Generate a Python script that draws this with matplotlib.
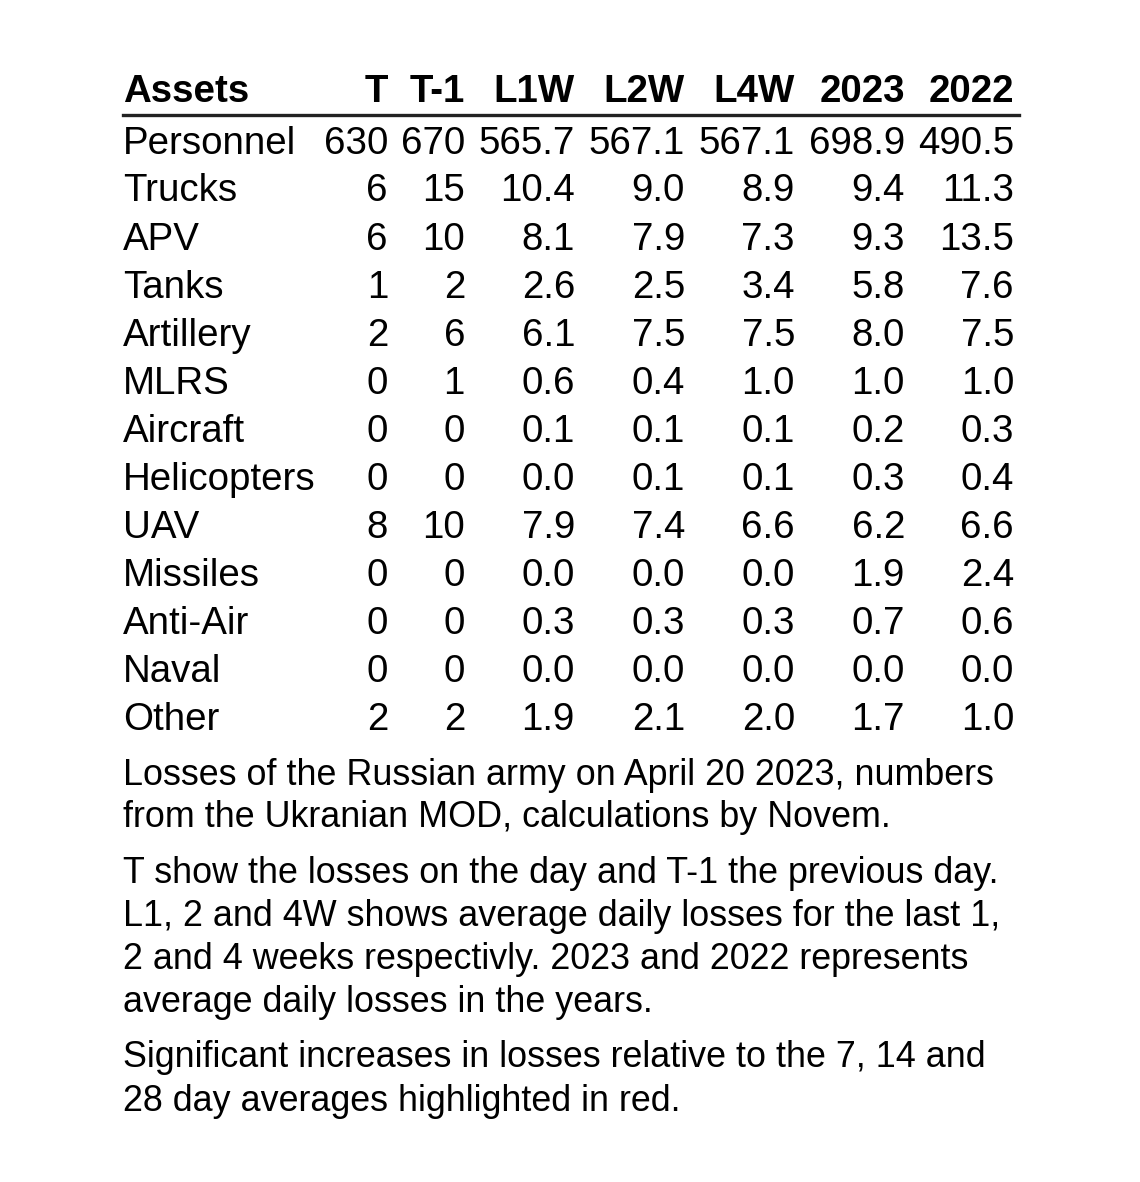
import matplotlib
matplotlib.use("Agg")
import matplotlib.pyplot as plt
from matplotlib.lines import Line2D

plt.rcParams['font.family'] = ['Liberation Sans', 'DejaVu Sans']

assets = ["Personnel", "Trucks", "APV", "Tanks", "Artillery", "MLRS", "Aircraft",
          "Helicopters", "UAV", "Missiles", "Anti-Air", "Naval", "Other"]
columns = ["T", "T-1", "L1W", "L2W", "L4W", "2023", "2022"]
t_vals = [630, 6, 6, 1, 2, 0, 0, 0, 8, 0, 0, 0, 2]
t1_vals = [670, 15, 10, 2, 6, 1, 0, 0, 10, 0, 0, 0, 2]
l1w = [565.7, 10.4, 8.1, 2.6, 6.1, 0.6, 0.1, 0.0, 7.9, 0.0, 0.3, 0.0, 1.9]
l2w = [567.1, 9.0, 7.9, 2.5, 7.5, 0.4, 0.1, 0.1, 7.4, 0.0, 0.3, 0.0, 2.1]
l4w = [567.1, 8.9, 7.3, 3.4, 7.5, 1.0, 0.1, 0.1, 6.6, 0.0, 0.3, 0.0, 2.0]
y2023 = [698.9, 9.4, 9.3, 5.8, 8.0, 1.0, 0.2, 0.3, 6.2, 1.9, 0.7, 0.0, 1.7]
y2022 = [490.5, 11.3, 13.5, 7.6, 7.5, 1.0, 0.3, 0.4, 6.6, 2.4, 0.6, 0.0, 1.0]

footer = [
    ["Losses of the Russian army on April 20 2023, numbers",
     "from the Ukranian MOD, calculations by Novem."],
    ["T show the losses on the day and T-1 the previous day.",
     "L1, 2 and 4W shows average daily losses for the last 1,",
     "2 and 4 weeks respectivly. 2023 and 2022 represents",
     "average daily losses in the years."],
    ["Significant increases in losses relative to the 7, 14 and",
     "28 day averages highlighted in red."],
]

W, H = 1140, 1182
fig = plt.figure(figsize=(W / 100, H / 100), dpi=100)
fig.patch.set_facecolor("white")

def fx(px):
    return px / W

def fy(py):
    return 1 - py / H

fs = 27.7
left = 123
col_right = [388, 465, 575, 685, 795, 905, 1014]

# header
fig.text(fx(left), fy(102.5), "Assets", fontsize=fs, fontweight="bold",
         ha="left", va="baseline")
for c, xr in zip(columns, col_right):
    fig.text(fx(xr), fy(102.5), c, fontsize=fs, fontweight="bold",
             ha="right", va="baseline")

fig.add_artist(Line2D([fx(left), fx(1019)], [fy(115), fy(115)],
                      transform=fig.transFigure, color="#222222", lw=2.4))

series = [t_vals, t1_vals, l1w, l2w, l4w, y2023, y2022]
for i, a in enumerate(assets):
    yb = 153.5 + 48 * i
    fig.text(fx(left), fy(yb), a, fontsize=fs, ha="left", va="baseline")
    for j, (s, xr) in enumerate(zip(series, col_right)):
        v = s[i]
        txt = f"{v:d}" if j < 2 else f"{v:.1f}"
        fig.text(fx(xr), fy(yb), txt, fontsize=fs, ha="right", va="baseline")

fs2 = 25.8
baselines = [[785, 827], [883, 926, 969, 1012], [1067, 1111]]
for para, bl in zip(footer, baselines):
    for line, yb in zip(para, bl):
        fig.text(fx(left), fy(yb), line, fontsize=fs2, ha="left", va="baseline")

fig.savefig("out.png", dpi=100, facecolor="white")
